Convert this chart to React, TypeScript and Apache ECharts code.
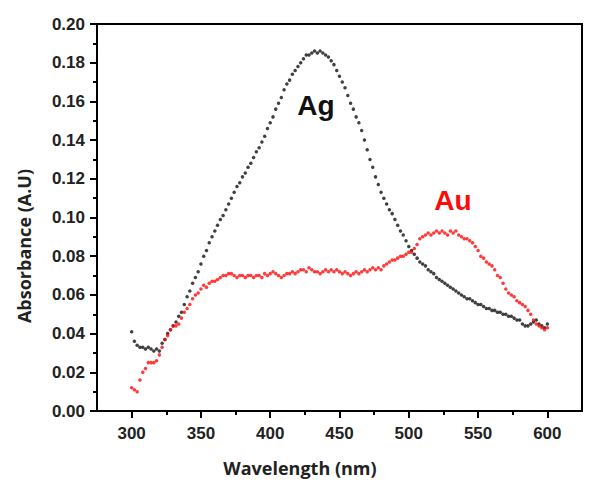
import React, { useEffect, useRef } from "react";
import * as echarts from "echarts";

// Wavelength grid (nm), step 2
const wavelengths: number[] = [];
for (let w = 300; w <= 600; w += 2) wavelengths.push(w);

const agValues = [
  0.041, 0.036, 0.034, 0.033, 0.033, 0.032, 0.033, 0.032, 0.031, 0.032,
  0.031, 0.035, 0.037, 0.040, 0.042, 0.044, 0.046, 0.049, 0.051, 0.055,
  0.059, 0.062, 0.066, 0.069, 0.072, 0.076, 0.080, 0.083, 0.087, 0.090,
  0.093, 0.096, 0.099, 0.101, 0.104, 0.107, 0.110, 0.113, 0.116, 0.118,
  0.121, 0.123, 0.126, 0.128, 0.131, 0.134, 0.136, 0.139, 0.142, 0.146,
  0.149, 0.152, 0.156, 0.159, 0.162, 0.166, 0.169, 0.171, 0.174, 0.176,
  0.178, 0.180, 0.182, 0.184, 0.184, 0.185, 0.186, 0.185, 0.186, 0.185,
  0.184, 0.183, 0.181, 0.179, 0.176, 0.173, 0.170, 0.167, 0.163, 0.159,
  0.156, 0.152, 0.149, 0.145, 0.140, 0.135, 0.130, 0.126, 0.121, 0.117,
  0.113, 0.110, 0.107, 0.104, 0.102, 0.099, 0.096, 0.093, 0.091, 0.088,
  0.085, 0.083, 0.081, 0.079, 0.077, 0.076, 0.075, 0.073, 0.072, 0.071,
  0.069, 0.068, 0.067, 0.066, 0.065, 0.064, 0.063, 0.062, 0.061, 0.060,
  0.059, 0.058, 0.058, 0.057, 0.056, 0.055, 0.055, 0.054, 0.053, 0.053,
  0.052, 0.052, 0.051, 0.051, 0.050, 0.050, 0.049, 0.049, 0.048, 0.047,
  0.047, 0.045, 0.044, 0.044, 0.045, 0.046, 0.047, 0.045, 0.044, 0.043,
  0.045,
];

const auValues = [
  0.012, 0.011, 0.010, 0.016, 0.020, 0.022, 0.025, 0.025, 0.025, 0.026,
  0.029, 0.033, 0.037, 0.039, 0.042, 0.044, 0.044, 0.045, 0.048, 0.051,
  0.053, 0.055, 0.058, 0.060, 0.061, 0.063, 0.065, 0.064, 0.066, 0.067,
  0.067, 0.068, 0.069, 0.070, 0.070, 0.071, 0.071, 0.070, 0.069, 0.070,
  0.070, 0.069, 0.070, 0.070, 0.069, 0.070, 0.070, 0.069, 0.071, 0.070,
  0.071, 0.072, 0.071, 0.070, 0.069, 0.070, 0.071, 0.071, 0.072, 0.071,
  0.072, 0.073, 0.073, 0.072, 0.074, 0.073, 0.072, 0.072, 0.071, 0.072,
  0.073, 0.072, 0.073, 0.072, 0.073, 0.072, 0.071, 0.072, 0.071, 0.070,
  0.071, 0.072, 0.071, 0.072, 0.073, 0.072, 0.073, 0.074, 0.073, 0.074,
  0.073, 0.075, 0.076, 0.077, 0.078, 0.078, 0.079, 0.080, 0.080, 0.081,
  0.082, 0.082, 0.084, 0.086, 0.089, 0.090, 0.091, 0.092, 0.091, 0.092,
  0.093, 0.092, 0.093, 0.092, 0.091, 0.093, 0.092, 0.093, 0.091, 0.090,
  0.089, 0.089, 0.088, 0.087, 0.085, 0.083, 0.080, 0.079, 0.077, 0.076,
  0.075, 0.073, 0.070, 0.069, 0.066, 0.063, 0.061, 0.060, 0.059, 0.057,
  0.056, 0.055, 0.054, 0.052, 0.050, 0.047, 0.045, 0.044, 0.043, 0.042,
  0.043,
];

const xMajorTicks = [300, 350, 400, 450, 500, 550, 600];
const xMinorTicks = [325, 375, 425, 475, 525, 575];

const tickFont = {
  fontFamily: "Liberation Sans, Arial, sans-serif",
  fontWeight: "bold" as const,
  fontSize: 17,
  color: "#222",
};

export default function App() {
  const ref = useRef<HTMLDivElement>(null);
  useEffect(() => {
    if (!ref.current) return;
    const chart = echarts.init(ref.current, undefined, { renderer: "svg" });
    const ag = wavelengths.map((w, i) => [w, agValues[i]]);
    const au = wavelengths.map((w, i) => [w, auValues[i]]);
    chart.setOption({
      animation: false,
      backgroundColor: "#fff",
      grid: {
        left: 97,
        right: 17,
        top: 24,
        bottom: 71,
        show: true,
        borderColor: "#000",
        borderWidth: 2,
        containLabel: false,
        outerBoundsMode: "none",
      },
      xAxis: [
        {
          type: "value",
          min: 275,
          max: 625,
          interval: 25,
          axisLine: { onZero: false, lineStyle: { color: "#000", width: 2 } },
          axisTick: { show: true, customValues: xMajorTicks, length: 7, lineStyle: { color: "#000", width: 2 } },
          axisLabel: { show: true, customValues: xMajorTicks, margin: 14, ...tickFont },
          splitLine: { show: false },
        },
        {
          type: "value",
          min: 275,
          max: 625,
          interval: 25,
          position: "bottom",
          axisLine: { show: false, onZero: false },
          axisTick: { show: true, customValues: xMinorTicks, length: 4, lineStyle: { color: "#000", width: 2 } },
          axisLabel: { show: false },
          splitLine: { show: false },
        },
      ],
      yAxis: {
        type: "value",
        min: 0,
        max: 0.2,
        interval: 0.02,
        axisLine: { show: true, onZero: false, lineStyle: { color: "#000", width: 2 } },
        axisTick: { show: true, length: 7, lineStyle: { color: "#000", width: 2 } },
        minorTick: { show: true, splitNumber: 2, length: 4, lineStyle: { color: "#000", width: 2 } },
        axisLabel: {
          margin: 12,
          formatter: (v: number) => v.toFixed(2),
          ...tickFont,
        },
        splitLine: { show: false },
      },
      graphic: [
        {
          type: "text",
          x: 300,
          y: 468,
          style: {
            text: "Wavelength (nm)",
            font: "bold 18px 'Open Sans', sans-serif",
            fill: "#222",
            align: "center",
            verticalAlign: "middle",
          },
        },
        {
          type: "text",
          x: 24,
          y: 246,
          rotation: Math.PI / 2,
          style: {
            text: "Absorbance (A.U)",
            font: "bold 18px 'Open Sans', sans-serif",
            fill: "#222",
            align: "center",
            verticalAlign: "middle",
          },
        },
        {
          type: "text",
          x: 316,
          y: 105,
          style: {
            text: "Ag",
            font: "bold 28px 'Liberation Sans', Arial, sans-serif",
            fill: "#111",
            align: "center",
            verticalAlign: "middle",
          },
        },
        {
          type: "text",
          x: 453,
          y: 200,
          style: {
            text: "Au",
            font: "bold 28px 'Liberation Sans', Arial, sans-serif",
            fill: "#ff0a0a",
            align: "center",
            verticalAlign: "middle",
          },
        },
      ],
      series: [
        {
          name: "Ag",
          type: "scatter",
          xAxisIndex: 0,
          data: ag,
          symbol: "circle",
          symbolSize: 3.5,
          itemStyle: { color: "#111" },
        },
        {
          name: "Au",
          type: "scatter",
          xAxisIndex: 0,
          data: au,
          symbol: "circle",
          symbolSize: 3.5,
          itemStyle: { color: "#ff0a0a" },
        },
      ],
    });
    return () => chart.dispose();
  }, []);
  return (
    <div
      ref={ref}
      style={{ position: "fixed", left: 0, top: 0, width: 599, height: 482, background: "#fff" }}
    />
  );
}
